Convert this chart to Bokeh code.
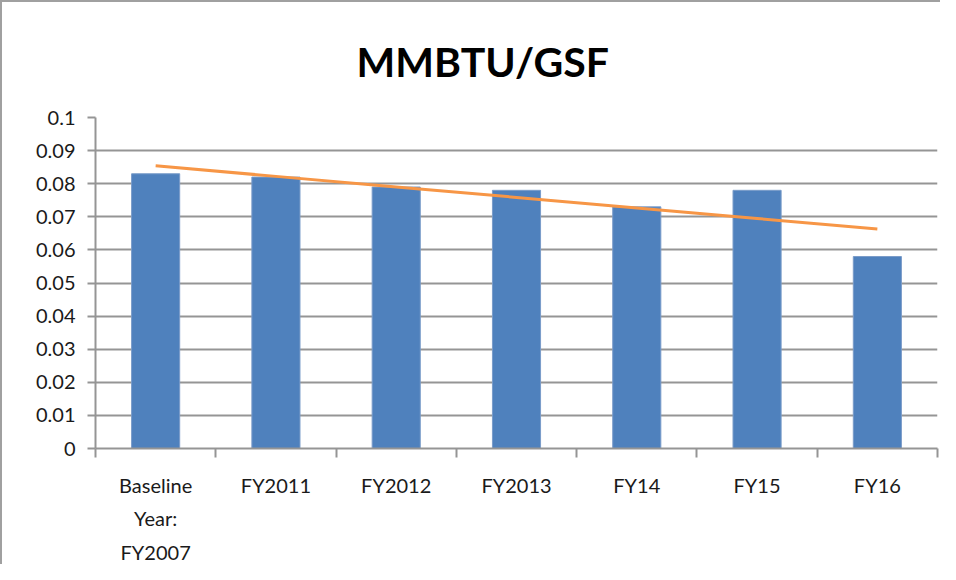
import numpy as np
from bokeh.plotting import figure
from bokeh.models import FixedTicker, Range1d, ColumnDataSource
from bokeh.embed import file_html
from bokeh.resources import INLINE

# ---- data ----
title_text = "MMBTU/GSF"
categories = ["Baseline\nYear:\nFY2007", "FY2011", "FY2012", "FY2013", "FY14", "FY15", "FY16"]
values = [0.083, 0.082, 0.079, 0.078, 0.073, 0.078, 0.058]
y_ticks = [0, 0.01, 0.02, 0.03, 0.04, 0.05, 0.06, 0.07, 0.08, 0.09, 0.1]
y_tick_labels = ["0", "0.01", "0.02", "0.03", "0.04", "0.05", "0.06", "0.07", "0.08", "0.09", "0.1"]

# ---- derived ----
xpos = [float(i + 1) for i in range(len(categories))]
boundaries = [i + 0.5 for i in range(len(categories) + 1)]
slope, intercept = np.polyfit(xpos, values, 1)
trend = [slope * xx + intercept for xx in xpos]

src = ColumnDataSource(dict(x=xpos, top=values, label=categories, trend=trend))

BAR = "#4F81BD"
TREND = "#F79646"
GRID = "#959595"
FONT = "Lato"

p = figure(width=940, height=564, output_backend="svg", toolbar_location=None,
           x_range=Range1d(0.5, len(categories) + 0.5), y_range=Range1d(0, 0.1),
           min_border_left=93, min_border_right=5, min_border_top=114, min_border_bottom=10)
p.styles = {"border-top": "2px solid #a0a0a0", "border-left": "2px solid #a0a0a0"}
p.outline_line_color = None
p.background_fill_color = "white"
p.border_fill_color = "white"

p.vbar(x="x", top="top", width=0.4, bottom=0, source=src, fill_color=BAR,
       line_color="#7a9cc9", line_width=1)
p.line(x="x", y="trend", source=src, line_color=TREND, line_width=3)

# title
p.title.text = title_text
p.title.text_font = FONT
p.title.text_font_style = "bold"
p.title.text_font_size = "41px"
p.title.text_color = "#000000"
p.title.align = "left"
p.title.offset = 261
p.title.standoff = 64

# y axis
ya = p.yaxis[0]
ya.ticker = FixedTicker(ticks=y_ticks)
ya.major_label_overrides = {t: l for t, l in zip(y_ticks, y_tick_labels)}
ya.axis_line_color = GRID
ya.axis_line_width = 2
ya.major_tick_line_color = GRID
ya.major_tick_line_width = 2
ya.major_tick_out = 8
ya.major_tick_in = 0
ya.minor_tick_line_color = None
ya.major_label_text_font = FONT
ya.major_label_text_font_size = "20px"
ya.major_label_text_color = "#1a1a1a"
ya.major_label_standoff = 12

# x axis: labels at category centres, ticks at category boundaries
xa = p.xaxis[0]
xa.ticker = FixedTicker(ticks=xpos, minor_ticks=boundaries)
xa.major_label_overrides = {t: l for t, l in zip(xpos, categories)}
xa.axis_line_color = GRID
xa.axis_line_width = 2
xa.major_tick_line_color = None
xa.major_tick_out = 0
xa.major_tick_in = 0
xa.minor_tick_line_color = GRID
xa.minor_tick_line_width = 2
xa.minor_tick_out = 9
xa.minor_tick_in = 0
xa.major_label_text_font = FONT
xa.major_label_text_font_size = "20px"
xa.major_label_text_color = "#1a1a1a"
xa.major_label_standoff = 15
xa.major_label_text_line_height = 1.4

p.xgrid.visible = False
p.ygrid.ticker = FixedTicker(ticks=y_ticks)
p.ygrid.grid_line_color = GRID
p.ygrid.grid_line_width = 2

open("out.html", "w").write(file_html(p, INLINE))
